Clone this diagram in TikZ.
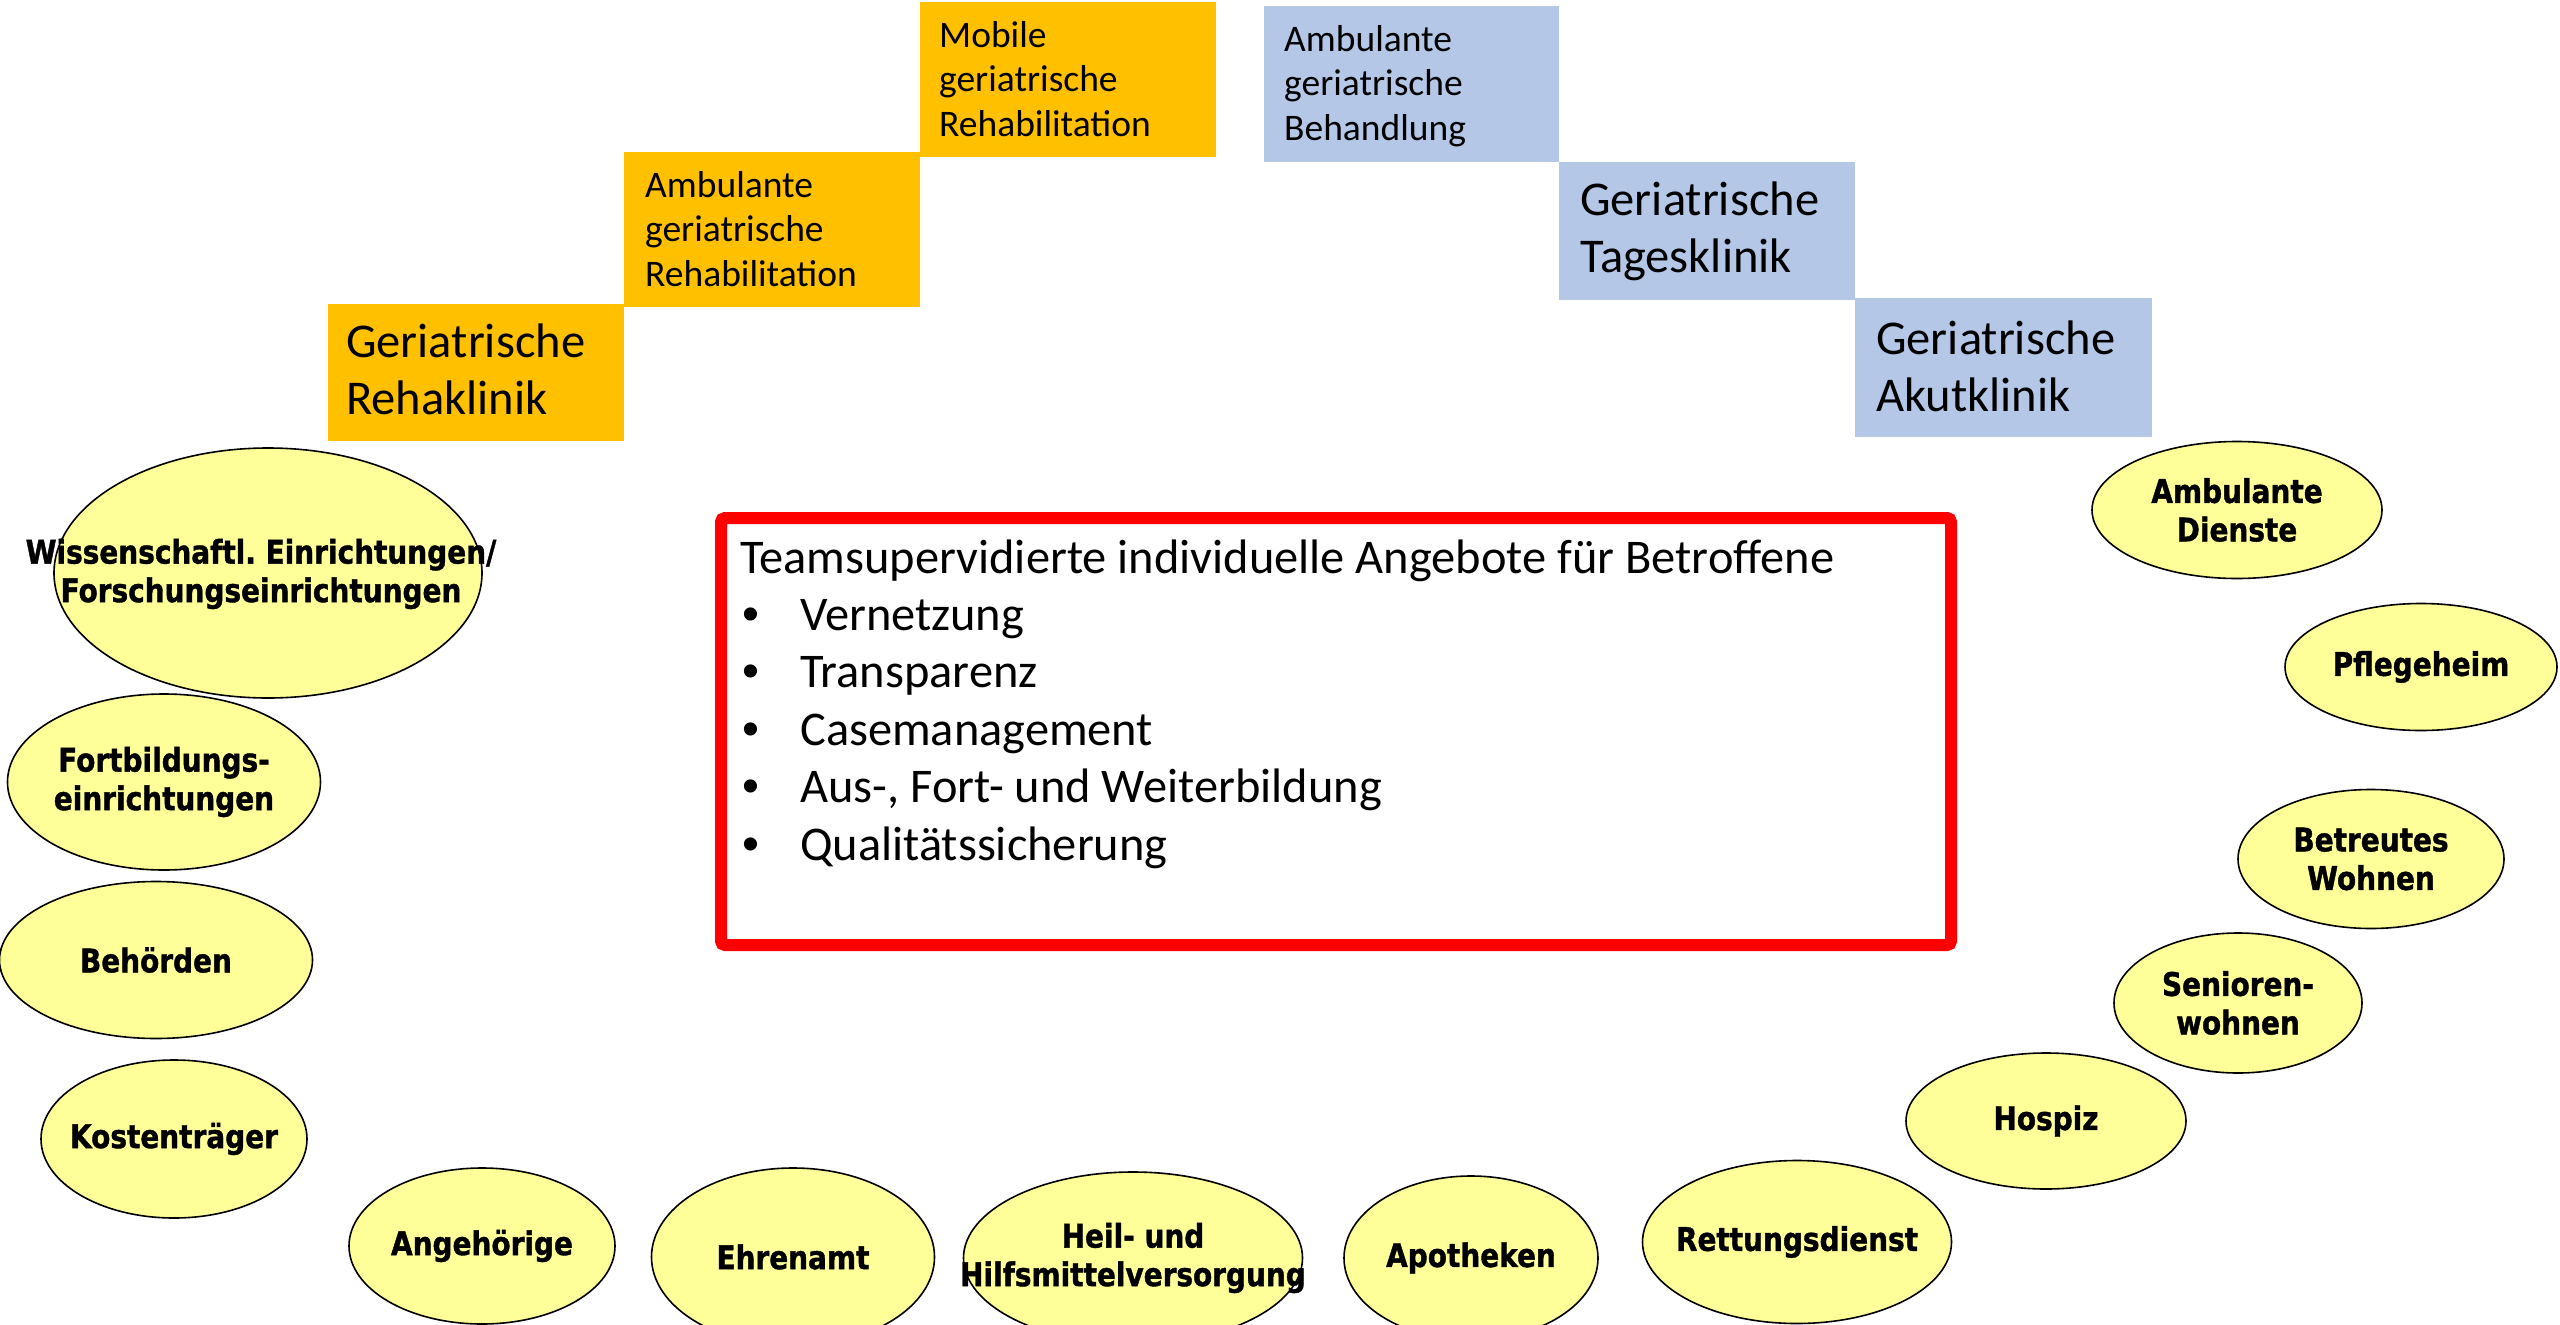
\documentclass[tikz,border=0pt]{standalone}
\usepackage{fontspec}
\setmainfont{Carlito}
\newfontfamily\bubblefont{DejaVu Sans}[FakeStretch=0.86, FakeBold=1.2]
\newfontfamily\bulletfont{Liberation Sans}
\usetikzlibrary{shapes.geometric}

\definecolor{rehaorange}{HTML}{FFC000}
\definecolor{clinicblue}{HTML}{B4C7E7}
\definecolor{bubbleyellow}{HTML}{FFFF99}
\definecolor{framered}{HTML}{FF0000}

\frenchspacing

% left-aligned block of lines whose baseline is the first line
\newcommand{\linesof}[1]{\begin{tabular}[t]{@{}l@{}}#1\end{tabular}}
\newcommand{\bulletitem}{\makebox[60pt][l]{\hspace{2pt}{\bulletfont •}}}

\tikzset{
  stage/.style={rectangle, inner sep=0pt, anchor=north west, minimum width=296pt},
  rehastage/.style={stage, fill=rehaorange},
  clinicstage/.style={stage, fill=clinicblue},
  smalltxt/.style={anchor=base west, inner sep=0pt, font=\fontsize{37.5}{44.6}\selectfont},
  bigtxt/.style={anchor=base west, inner sep=0pt, font=\fontsize{48.5}{57}\selectfont},
  bubble/.style={ellipse, draw=black, line width=1.6pt, fill=bubbleyellow, inner sep=0pt},
  bubbletxt/.style={inner sep=0pt, align=center,
    font=\bubblefont\bfseries\fontsize{32.5}{38.5}\selectfont},
}

\begin{document}
\begin{tikzpicture}[x=1pt, y=-1pt]
  \fill[white] (0,0) rectangle (2560,1325);
  \useasboundingbox (0,0) rectangle (2560,1325);

  % rehabilitation staircase
  \node[rehastage, minimum height=137pt] (reha) at (328,304) {};
  \node[rehastage, minimum height=155pt] (amreha) at (624,152) {};
  \node[rehastage, minimum height=155pt] (mobreha) at (920,2) {};
  \node[bigtxt] (rehat) at (346,357) {\linesof{Geriatrische\\Rehaklinik}};
  \node[smalltxt] (amrehat) at (645,197) {\linesof{Ambulante\\geriatrische\\Rehabilitation}};
  \node[smalltxt] (mobrehat) at (939,47) {\linesof{Mobile\\geriatrische\\Rehabilitation}};

  % clinical staircase
  \node[clinicstage, minimum width=295pt, minimum height=156pt] (ambeh) at (1264,6) {};
  \node[clinicstage, minimum height=138pt] (tages) at (1559,162) {};
  \node[clinicstage, minimum width=297pt, minimum height=139pt] (akut) at (1855,298) {};
  \node[smalltxt] (ambeht) at (1284,51) {\linesof{Ambulante\\geriatrische\\Behandlung}};
  \node[bigtxt] (tagest) at (1580,215) {\linesof{Geriatrische\\Tagesklinik}};
  \node[bigtxt] (akutt) at (1876,354) {\linesof{Geriatrische\\Akutklinik}};

  % central offer frame
  \node[rectangle, draw=framered, line width=12pt, rounded corners=4pt,
        minimum width=1230pt, minimum height=427pt, inner sep=0pt] (frame) at (1336,731.5) {};
  \node[anchor=base west, inner sep=0pt, font=\fontsize{48.4}{57.4}\selectfont] (offer) at (740,573)
    {\begin{tabular}[t]{@{}l@{}l@{}}
      \multicolumn{2}{@{}l@{}}{Teamsupervidierte individuelle Angebote für Betroffene}\\
      \bulletitem & Vernetzung\\
      \bulletitem & Transparenz\\
      \bulletitem & Casemanagement\\
      \bulletitem & Aus-, Fort- und Weiterbildung\\
      \bulletitem & Qualitätssicherung
    \end{tabular}};

  % network partners
  \node[bubble, minimum width=428pt, minimum height=250pt] (wiss) at (268,573) {};
  \node[bubbletxt] (wisst) at (261,574) {Wissenschaftl. Einrichtungen/\\Forschungseinrichtungen};
  \node[bubble, minimum width=313pt, minimum height=176pt] (fort) at (164,782) {};
  \node[bubbletxt] (fortt) at (fort.center) {Fortbildungs-\\einrichtungen};
  \node[bubble, minimum width=313pt, minimum height=157pt] (beh) at (156,960) {};
  \node[bubbletxt] (beht) at (beh.center) {Behörden};
  \node[bubble, minimum width=266pt, minimum height=158pt] (kost) at (174,1139) {};
  \node[bubbletxt] (kostt) at (kost.center) {Kostenträger};
  \node[bubble, minimum width=266pt, minimum height=156pt] (ange) at (482,1246) {};
  \node[bubbletxt] (anget) at (ange.center) {Angehörige};
  \node[bubble, minimum width=283pt, minimum height=178pt] (ehr) at (793,1257) {};
  \node[bubbletxt] (ehrt) at (ehr.center) {Ehrenamt};
  \node[bubble, minimum width=339pt, minimum height=172pt] (heil) at (1133,1258) {};
  \node[bubbletxt] (heilt) at (heil.center) {Heil- und\\Hilfsmittelversorgung};
  \node[bubble, minimum width=254pt, minimum height=164pt] (apo) at (1471,1258) {};
  \node[bubbletxt] (apot) at (apo.center) {Apotheken};
  \node[bubble, minimum width=309pt, minimum height=163pt] (rett) at (1797,1242) {};
  \node[bubbletxt] (rettt) at (rett.center) {Rettungsdienst};
  \node[bubble, minimum width=280pt, minimum height=136pt] (hosp) at (2046,1121) {};
  \node[bubbletxt] (hospt) at (hosp.center) {Hospiz};
  \node[bubble, minimum width=248pt, minimum height=140pt] (sen) at (2238,1003) {};
  \node[bubbletxt] (sent) at (sen.center) {Senioren-\\wohnen};
  \node[bubble, minimum width=266pt, minimum height=139pt] (betr) at (2371,859) {};
  \node[bubbletxt] (betrt) at (betr.center) {Betreutes\\Wohnen};
  \node[bubble, minimum width=272pt, minimum height=127pt] (pfl) at (2421,667) {};
  \node[bubbletxt] (pflt) at (pfl.center) {Pflegeheim};
  \node[bubble, minimum width=290pt, minimum height=137pt] (amb) at (2237,510) {};
  \node[bubbletxt] (ambt) at (amb.center) {Ambulante\\Dienste};
\end{tikzpicture}
\end{document}
